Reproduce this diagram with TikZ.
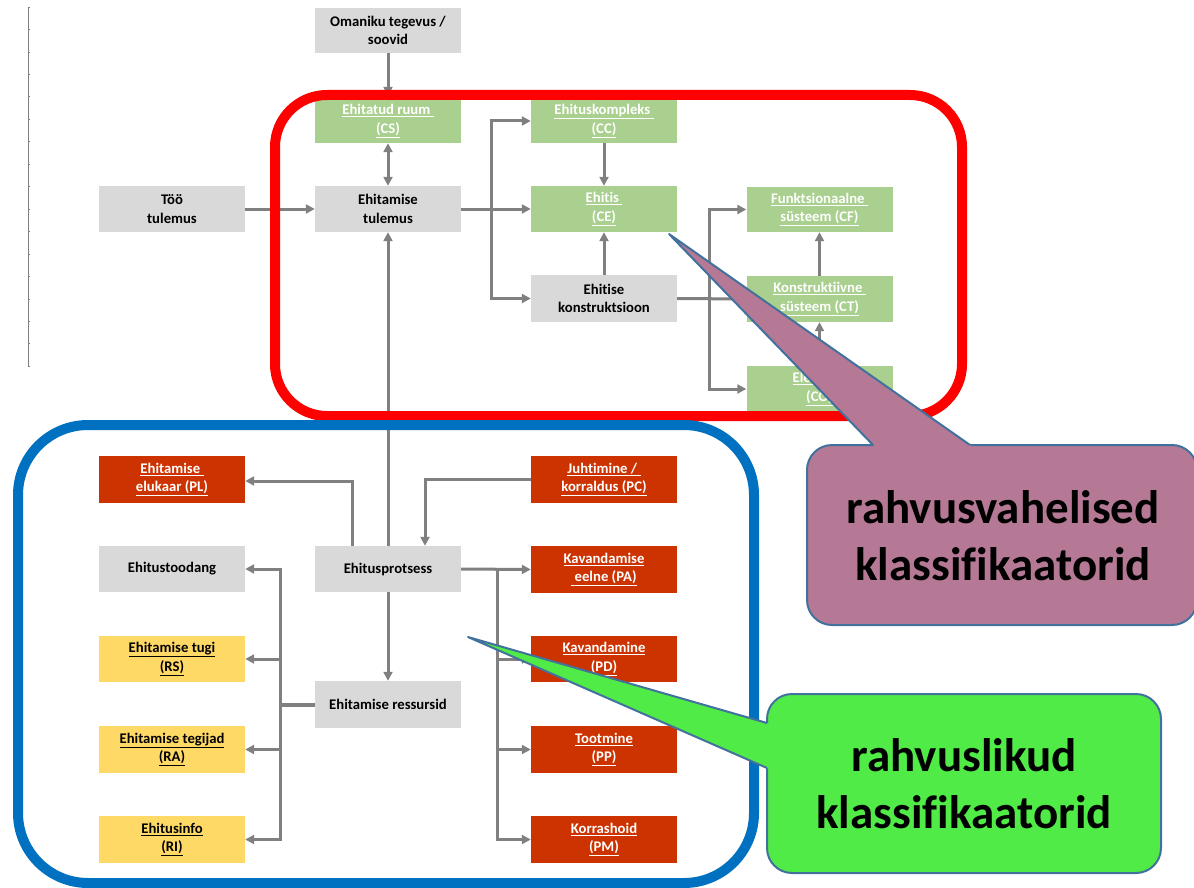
\documentclass[tikz,border=0pt]{standalone}
\usepackage{fontspec}
\setmainfont{Carlito}[Ligatures=CommonOff]
\usetikzlibrary{arrows.meta}
\definecolor{boxgray}{HTML}{D9D9D9}
\definecolor{boxgreen}{HTML}{A9D08E}
\definecolor{boxorange}{HTML}{CC3300}
\definecolor{boxyellow}{HTML}{FFD966}
\definecolor{arrgray}{HTML}{808080}
\definecolor{framered}{HTML}{FF0000}
\definecolor{frameblue}{HTML}{0070C0}
\definecolor{mauve}{HTML}{B57995}
\definecolor{callgreen}{HTML}{50EB46}
\definecolor{callborder}{HTML}{41719C}
\newcommand\fsmall{\fontsize{14.7}{18.7}\selectfont\bfseries}
\newcommand\fbig{\fontsize{47}{57}\selectfont\bfseries}
\tikzset{
  box/.style={minimum width=146pt, minimum height=46pt, inner sep=0pt, align=center, font=\fsmall},
  graybox/.style={box, fill=boxgray, text=black},
  greenbox/.style={box, fill=boxgreen, text=white},
  orangebox/.style={box, fill=boxorange, text=white},
  yellowbox/.style={box, fill=boxyellow, text=black},
  arr/.style={draw=arrgray, line width=3pt, -{Triangle[length=9pt,width=9pt]}},
  biarr/.style={draw=arrgray, line width=3pt, {Triangle[length=9pt,width=9pt]}-{Triangle[length=9pt,width=9pt]}},
  plain/.style={draw=arrgray, line width=3pt},
  frame/.style={line width=10pt},
  callline/.style={draw=callborder, line width=2pt, line join=round}
}
\begin{document}
\begin{tikzpicture}[x=1pt,y=-1pt]
\useasboundingbox (0,0) rectangle (1194,888);
% left ruler
\draw[gray, line width=0.8pt] (28,7) -- (28,367);
\foreach \k in {0,...,16} {\draw[gray, line width=0.6pt] (28,7+22.45*\k) -- (30,7+22.45*\k);}

% upper boxes
\node[graybox, minimum height=45pt] (own) at (388,30.5) {Omaniku tegevus /\\soovid};
\node[greenbox, minimum height=44pt] (cs) at (388,121) {\underline{Ehitatud ruum\ }\\\underline{(CS)}};
\node[graybox] (too) at (172,209) {Töö\\tulemus};
\node[graybox] (et) at (388,209) {Ehitamise\\tulemus};
\node[greenbox, minimum height=44pt] (cc) at (604,121) {\underline{Ehituskompleks\ }\\\underline{(CC)}};
\node[greenbox] (ce) at (604,209) {\underline{Ehitis\ }\\\underline{(CE)}};
\node[graybox, minimum height=47pt] (ek) at (604,298.5) {Ehitise\\konstruktsioon};
\node[greenbox, minimum height=45pt] (cf) at (819.5,209.5) {\underline{Funktsionaalne\ }\\\underline{süsteem (CF)}};
\node[greenbox] (ct) at (819.5,299) {\underline{Konstruktiivne\ }\\\underline{süsteem (CT)}};
\node[greenbox] (co) at (819.5,389) {\underline{Element\ }\\\underline{(CO)}};

% lower boxes
\node[orangebox, minimum height=47pt] (pl) at (172,479.5) {\underline{Ehitamise\ }\\\underline{elukaar (PL)}};
\node[graybox] (etd) at (172,569) {Ehitustoodang};
\node[yellowbox] (rs) at (172,659) {\underline{Ehitamise tugi}\\\underline{(RS)}};
\node[yellowbox, minimum height=47pt] (ra) at (172,749.5) {\underline{Ehitamise tegijad}\\\underline{(RA)}};
\node[yellowbox, minimum height=47pt] (ri) at (172,839.5) {\underline{Ehitusinfo}\\\underline{(RI)}};
\node[graybox] (ep) at (388,569) {Ehitusprotsess};
\node[graybox, minimum height=47pt] (er) at (388,704.5) {Ehitamise ressursid};
\node[orangebox, minimum height=47pt] (pc) at (604,479.5) {\underline{Juhtimine /\ }\\\underline{korraldus (PC)}};
\node[orangebox, minimum height=47pt] (pa) at (604,569.5) {\underline{Kavandamise}\\\underline{\ eelne (PA)}};
\node[orangebox] (pd) at (604,659) {\underline{Kavandamine}\\\underline{(PD)}};
\node[orangebox, minimum height=47pt] (pp) at (604,749.5) {\underline{Tootmine}\\\underline{(PP)}};
\node[orangebox, minimum height=47pt] (pm) at (604,839.5) {\underline{Korrashoid}\\\underline{(PM)}};

% junctions
\coordinate (j1) at (491,209);
\coordinate (j2) at (709,298.5);
\coordinate (j3) at (497,569.5);
\coordinate (j4) at (280,704.5);

% upper connectors
\draw[arr] (own) -- ([yshift=3pt]cs.north);
\draw[biarr] (cs) -- (et);
\draw[arr] (too) -- (et);
\draw[arr] (ep.north) -- (et.south);
\draw[arr] (et.east) -- (ce.west);
\draw[arr] (j1) |- (cc.west);
\draw[arr] (j1) |- (ek.west);
\draw[arr] (cc) -- (ce);
\draw[arr] (ek) -- (ce);
\draw[arr] (ek.east) -- (ct.west);
\draw[arr] (j2) |- (cf.west);
\draw[arr] (j2) |- (co.west);
\draw[arr] (ct) -- (cf);
\draw[arr] (co) -- (ct);

% lower connectors
\draw[arr] ([xshift=-36pt]ep.north) |- ([yshift=-1.5pt]pl.east);
\draw[arr] ([yshift=0.5pt]pc.west) -| ([xshift=37pt]ep.north);
\draw[arr] (ep.east) -- (pa.west);
\draw[arr] (j3) |- (pd.west);
\draw[arr] (j3) |- (pp.west);
\draw[arr] (j3) |- (pm.west);
\draw[arr] (ep) -- (er);
\draw[plain, line width=4pt] (er.west) -- (j4);
\draw[arr] (j4) |- (etd.east);
\draw[arr] (j4) |- (rs.east);
\draw[arr] (j4) |- (ra.east);
\draw[arr] (j4) |- (ri.east);

% frames
\draw[frame, draw=framered, rounded corners=52pt] (275,95) rectangle (962,416);
\draw[frame, draw=frameblue, rounded corners=70pt] (18,425) rectangle (754,883);

% mauve callout
\draw[callline, fill=mauve, rounded corners=25pt] (807,445) rectangle (1197,625);
\fill[mauve] (669,234) -- (875.9,448) -- (974.3,448) -- cycle;
\draw[callline] (873,445) -- (669,234) -- (970,445);
\node[font=\fbig, align=center, text=black] (intl) at (1003,536) {rahvusvahelised\\klassifikaatorid};

% green callout
\draw[callline, fill=callgreen, rounded corners=25pt] (767,694) rectangle (1161,873);
\fill[callgreen] (468,637) -- (770,723.9) -- (770,769.3) -- cycle;
\draw[callline] (767,723) -- (468,637) -- (767,768);
\node[font=\fbig, align=center, text=black] (natl) at (964,784) {rahvuslikud\\klassifikaatorid};
\end{tikzpicture}
\end{document}
